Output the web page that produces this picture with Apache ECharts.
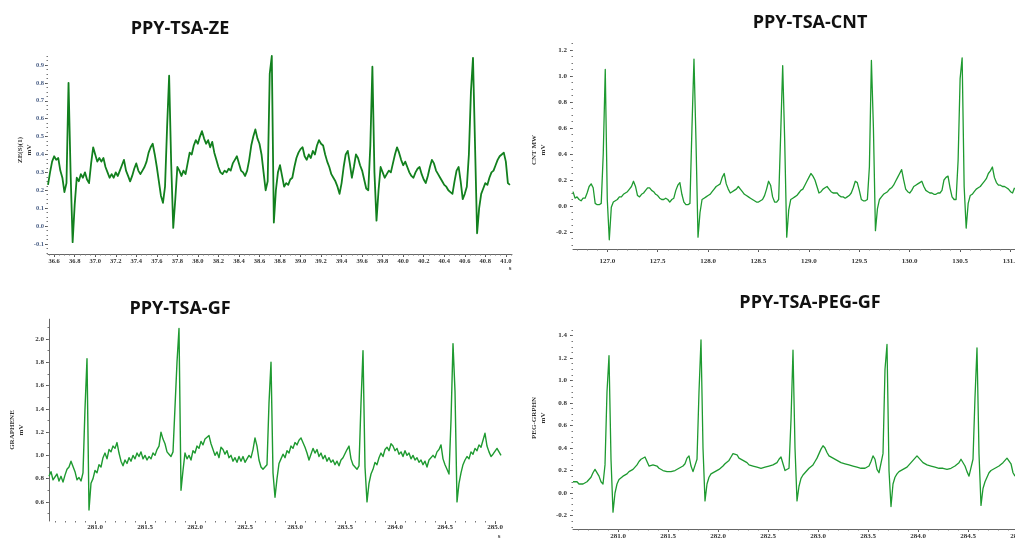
<!DOCTYPE html>
<html><head><meta charset="utf-8">
<script src="https://cdn.jsdelivr.net/npm/echarts@6/dist/echarts.min.js"></script>
<style>html,body{margin:0;padding:0;background:#fff}#c{width:1015px;height:540px}</style>
</head><body><div id="c"></div>
<script>
// ---------- data ----------
const titles = ['PPY-TSA-ZE', 'PPY-TSA-CNT', 'PPY-TSA-GF', 'PPY-TSA-PEG-GF'];
const yNames = ['ZE(S)(1)', 'CNT MW', 'GRAPHENE', 'PEG-GRPHN'];
const yUnit = 'mV';
const xUnit = 's';

const zeStart = 36.54, zeStep = 0.02;
const zeValues = [0.23,0.30,0.36,0.39,0.37,0.38,0.31,0.27,0.19,0.24,
 0.80,0.30,-0.09,0.12,0.27,0.25,0.29,0.27,0.30,0.26,
 0.24,0.35,0.44,0.40,0.36,0.38,0.36,0.38,0.33,0.30,
 0.27,0.29,0.27,0.30,0.28,0.31,0.34,0.37,0.31,0.28,
 0.25,0.28,0.32,0.35,0.31,0.29,0.31,0.33,0.36,0.41,
 0.44,0.46,0.40,0.33,0.25,0.17,0.13,0.22,0.55,0.84,
 0.35,-0.01,0.15,0.33,0.31,0.28,0.31,0.29,0.35,0.41,
 0.40,0.45,0.48,0.46,0.50,0.53,0.49,0.46,0.48,0.44,
 0.47,0.41,0.37,0.33,0.30,0.29,0.31,0.30,0.32,0.31,
 0.35,0.37,0.39,0.35,0.31,0.30,0.28,0.31,0.37,0.45,
 0.50,0.54,0.49,0.46,0.40,0.30,0.20,0.25,0.85,0.95,
 0.02,0.20,0.30,0.34,0.28,0.22,0.24,0.23,0.26,0.27,
 0.33,0.38,0.41,0.43,0.44,0.39,0.37,0.40,0.38,0.42,
 0.40,0.45,0.48,0.46,0.45,0.40,0.36,0.33,0.29,0.27,
 0.25,0.22,0.18,0.24,0.33,0.40,0.42,0.35,0.27,0.33,
 0.40,0.38,0.34,0.31,0.26,0.21,0.20,0.45,0.89,0.30,
 0.03,0.20,0.33,0.30,0.27,0.29,0.31,0.30,0.35,0.40,
 0.44,0.41,0.37,0.34,0.36,0.33,0.30,0.28,0.27,0.30,
 0.32,0.33,0.29,0.26,0.24,0.28,0.33,0.37,0.35,0.31,
 0.29,0.27,0.25,0.23,0.22,0.20,0.19,0.18,0.25,0.31,
 0.33,0.25,0.15,0.18,0.22,0.40,0.75,0.94,0.45,-0.04,
 0.10,0.18,0.21,0.24,0.23,0.27,0.30,0.31,0.34,0.37,
 0.39,0.40,0.41,0.36,0.24,0.23];

const cntStart = 126.66, cntStep = 0.02;
const cntValues = [0.11,0.06,0.07,0.05,0.04,0.06,0.06,0.10,0.15,0.17,
 0.14,0.02,0.01,0.01,0.02,0.40,1.05,0.05,-0.26,-0.01,
 0.03,0.04,0.05,0.07,0.07,0.09,0.10,0.11,0.13,0.15,
 0.19,0.15,0.08,0.07,0.09,0.10,0.12,0.14,0.14,0.12,
 0.11,0.09,0.08,0.06,0.05,0.05,0.06,0.05,0.03,0.05,
 0.06,0.12,0.16,0.18,0.09,0.03,0.01,0.01,0.02,0.60,
 1.13,0.50,-0.24,-0.05,0.05,0.06,0.07,0.08,0.09,0.11,
 0.13,0.15,0.16,0.17,0.22,0.25,0.17,0.13,0.10,0.11,
 0.12,0.13,0.15,0.13,0.11,0.09,0.08,0.07,0.06,0.05,
 0.04,0.03,0.03,0.04,0.05,0.08,0.13,0.19,0.16,0.07,
 0.03,0.03,0.05,0.55,1.08,0.50,-0.24,-0.03,0.05,0.06,
 0.07,0.08,0.10,0.12,0.13,0.16,0.19,0.22,0.25,0.23,
 0.20,0.15,0.10,0.11,0.13,0.14,0.15,0.13,0.11,0.10,
 0.10,0.10,0.08,0.07,0.07,0.06,0.07,0.08,0.10,0.14,
 0.19,0.18,0.12,0.05,0.04,0.04,0.05,0.30,1.12,0.60,
 -0.19,-0.02,0.05,0.07,0.09,0.10,0.11,0.13,0.14,0.16,
 0.19,0.22,0.25,0.28,0.20,0.13,0.11,0.10,0.12,0.15,
 0.16,0.17,0.18,0.19,0.15,0.12,0.11,0.10,0.10,0.09,
 0.09,0.10,0.10,0.12,0.20,0.22,0.23,0.14,0.07,0.05,
 0.05,0.35,0.98,1.14,0.15,-0.17,0.02,0.08,0.09,0.11,
 0.13,0.14,0.15,0.17,0.19,0.21,0.25,0.27,0.30,0.22,
 0.18,0.16,0.16,0.15,0.15,0.14,0.13,0.11,0.10,0.14];

const gfStart = 280.54, gfStep = 0.02;
const gfValues = [0.82,0.86,0.79,0.80,0.84,0.78,0.82,0.77,0.83,0.88,
 0.90,0.95,0.94,0.86,0.79,0.81,0.78,0.85,1.40,1.83,
 0.53,0.76,0.80,0.87,0.85,0.92,0.90,0.98,1.02,0.97,
 1.05,1.03,1.08,1.06,1.11,1.02,0.95,0.91,0.96,0.93,
 0.98,0.95,1.00,0.97,1.02,0.99,1.03,0.97,1.00,0.96,
 0.99,0.97,1.02,1.00,1.05,1.08,1.20,1.14,1.10,1.03,
 1.01,0.99,1.03,1.04,1.80,2.09,0.70,0.87,1.02,0.97,
 1.00,0.96,1.04,1.02,1.08,1.06,1.12,1.09,1.14,1.13,
 1.17,1.10,1.05,1.00,1.03,0.98,1.07,1.05,1.01,1.04,
 0.98,1.00,0.95,0.98,0.94,0.99,0.95,0.99,0.94,0.97,
 1.00,0.98,1.05,1.15,1.08,0.96,0.90,0.88,0.89,0.92,
 1.45,1.80,0.85,0.64,0.80,0.93,0.97,1.01,0.98,1.04,
 1.02,1.08,1.06,1.11,1.09,1.13,1.15,1.16,1.07,1.02,
 0.96,1.01,1.06,1.02,1.05,0.99,1.02,0.97,1.00,0.95,
 0.98,0.94,0.96,0.92,0.95,0.91,0.96,0.98,0.99,1.05,
 1.08,0.97,0.92,0.90,0.88,0.91,1.45,1.90,0.90,0.60,
 0.76,0.84,0.88,0.94,0.92,0.98,1.02,0.99,1.05,1.07,
 1.04,1.10,1.08,1.04,1.06,1.01,1.03,0.99,1.04,1.00,
 1.02,0.97,1.00,0.96,0.98,0.94,0.96,0.92,0.95,0.90,
 0.96,0.97,1.00,0.98,1.03,1.05,1.09,0.97,0.92,0.88,
 0.84,1.30,1.96,1.55,0.60,0.76,0.85,0.92,0.96,0.99,
 0.97,1.03,1.01,1.06,1.04,1.09,1.07,1.13,1.19,1.08,
 1.03,0.99,1.01,1.02,1.06,1.03,1.00];

const pegStart = 280.55, pegStep = 0.02;
const pegValues = [0.10,0.09,0.10,0.08,0.09,0.08,0.09,0.10,0.11,0.14,
 0.18,0.21,0.22,0.15,0.10,0.08,0.25,0.90,1.22,0.30,
 -0.17,0.00,0.08,0.12,0.13,0.15,0.16,0.17,0.19,0.20,
 0.21,0.22,0.25,0.28,0.30,0.31,0.32,0.28,0.24,0.23,
 0.25,0.26,0.24,0.22,0.21,0.20,0.20,0.19,0.19,0.19,
 0.20,0.20,0.21,0.22,0.23,0.24,0.26,0.31,0.33,0.24,
 0.19,0.18,0.30,0.90,1.36,0.40,-0.07,0.08,0.14,0.17,
 0.18,0.19,0.20,0.21,0.22,0.24,0.26,0.27,0.29,0.32,
 0.35,0.36,0.34,0.31,0.30,0.29,0.28,0.27,0.25,0.25,
 0.24,0.23,0.23,0.22,0.22,0.22,0.23,0.23,0.24,0.24,
 0.25,0.26,0.27,0.30,0.32,0.26,0.20,0.19,0.22,0.65,
 1.27,0.40,-0.07,0.06,0.13,0.16,0.18,0.20,0.22,0.23,
 0.25,0.28,0.31,0.35,0.39,0.42,0.40,0.36,0.33,0.32,
 0.31,0.30,0.29,0.28,0.27,0.27,0.26,0.26,0.25,0.25,
 0.24,0.24,0.23,0.23,0.22,0.22,0.22,0.23,0.24,0.28,
 0.33,0.30,0.21,0.18,0.18,0.35,1.10,1.32,0.20,-0.12,
 0.08,0.14,0.17,0.19,0.20,0.21,0.22,0.23,0.25,0.27,
 0.29,0.31,0.33,0.32,0.29,0.27,0.26,0.25,0.25,0.24,
 0.24,0.23,0.23,0.22,0.22,0.22,0.21,0.21,0.22,0.22,
 0.23,0.24,0.25,0.27,0.30,0.29,0.24,0.19,0.15,0.14,
 0.30,0.85,1.29,0.35,-0.11,0.04,0.10,0.14,0.18,0.20,
 0.21,0.22,0.23,0.24,0.25,0.27,0.29,0.31,0.32,0.26,
 0.18,0.15];

const zeXTicks = [36.6,36.8,37.0,37.2,37.4,37.6,37.8,38.0,38.2,38.4,38.6,38.8,39.0,39.2,39.4,39.6,39.8,40.0,40.2,40.4,40.6,40.8,41.0];
const cntXTicks = [127.0,127.5,128.0,128.5,129.0,129.5,130.0,130.5,131.0];
const gfXTicks = [281.0,281.5,282.0,282.5,283.0,283.5,284.0,284.5,285.0];
const pegXTicks = [281.0,281.5,282.0,282.5,283.0,283.5,284.0,284.5,285.0];
const zeYTicks = [-0.1,0.0,0.1,0.2,0.3,0.4,0.5,0.6,0.7,0.8,0.9];
const cntYTicks = [-0.2,0.0,0.2,0.4,0.6,0.8,1.0,1.2];
const gfYTicks = [0.6,0.8,1.0,1.2,1.4,1.6,1.8,2.0];
const pegYTicks = [-0.2,0.0,0.2,0.4,0.6,0.8,1.0,1.2,1.4];

// ---------- layout / style ----------
function steps(a, b, s) { const r = []; const n = Math.round((b - a) / s); for (let k = 0; k <= n; k++) r.push(+(a + k * s).toFixed(4)); return r; }
const serif = 'Liberation Serif';
const panels = [
  { title: titles[0], tx: 180, ty: 29, name: yNames[0], nx: 25, ny: 150, unitX: 510, unitY: 268,
    start: zeStart, step: zeStep, values: zeValues, xTicks: zeXTicks, yTicks: zeYTicks,
    grid: { left: 48, top: 56, width: 464, height: 198 }, xr: [36.54, 41.06], yr: [-0.156, 0.95],
    xMinor: steps(36.55, 41.05, 0.05), yMinor: steps(-0.15, 0.95, 0.025),
    color: '#12801e', lw: 1.8, xLine: true, yLine: false, xm: 4, ym: 4, fs: 6.5, ylColor: '#4a5f86' },
  { title: titles[1], tx: 810, ty: 23, name: yNames[1], nx: 539, ny: 150,
    start: cntStart, step: cntStep, values: cntValues, xTicks: cntXTicks, yTicks: cntYTicks,
    grid: { left: 573, top: 43.5, width: 447, height: 205.5 }, xr: [126.66, 131.094], yr: [-0.331, 1.25],
    xMinor: steps(126.7, 131.0, 0.1), yMinor: steps(-0.3, 1.25, 0.05),
    color: '#1e9a30', lw: 1.3, xLine: true, yLine: false, xm: 9, ym: 6, fs: 7, ylColor: '#333' },
  { title: titles[2], tx: 180, ty: 309, name: yNames[2], nx: 17, ny: 430, unitX: 499, unitY: 536,
    start: gfStart, step: gfStep, values: gfValues, xTicks: gfXTicks, yTicks: gfYTicks,
    grid: { left: 49, top: 319.2, width: 454, height: 201.8 }, xr: [280.54, 285.08], yr: [0.436, 2.17],
    xMinor: steps(280.6, 285.0, 0.1), yMinor: steps(0.5, 2.1, 0.1),
    color: '#1e9a30', lw: 1.4, xLine: false, yLine: true, xm: 3, ym: 5, fs: 7, ylColor: '#333' },
  { title: titles[3], tx: 810, ty: 303, name: yNames[3], nx: 539, ny: 418,
    start: pegStart, step: pegStep, values: pegValues, xTicks: pegXTicks, yTicks: pegYTicks,
    grid: { left: 573, top: 325.4, width: 447, height: 203.6 }, xr: [280.55, 285.02], yr: [-0.32, 1.49],
    xMinor: steps(280.6, 285.0, 0.1), yMinor: steps(-0.3, 1.45, 0.05),
    color: '#1e9a30', lw: 1.3, xLine: true, yLine: false, xm: 4, ym: 6, fs: 7, ylColor: '#333' }
];

const grids = [], xAxes = [], yAxes = [], series = [], graphics = [];
panels.forEach((p, k) => {
  grids.push(Object.assign({ containLabel: false, outerBoundsMode: 'none' }, p.grid));
  const fmt = v => v.toFixed(1);
  xAxes.push({ gridIndex: k, type: 'value', position: 'bottom', min: p.xr[0], max: p.xr[1],
    axisLine: { show: p.xLine, onZero: false, lineStyle: { color: '#666', width: 1 } },
    axisTick: { show: true, customValues: p.xTicks, length: 3, lineStyle: { color: '#555' } },
    axisLabel: { customValues: p.xTicks, formatter: fmt, margin: p.xm, fontSize: p.fs, fontFamily: serif, fontWeight: 'bold', color: '#333' },
    splitLine: { show: false } });
  xAxes.push({ gridIndex: k, type: 'value', position: 'bottom', min: p.xr[0], max: p.xr[1],
    axisLine: { show: false, onZero: false },
    axisTick: { show: true, customValues: p.xMinor, length: 1.5, lineStyle: { color: '#777' } },
    axisLabel: { show: false }, splitLine: { show: false } });
  yAxes.push({ gridIndex: k, type: 'value', position: 'left', min: p.yr[0], max: p.yr[1],
    axisLine: { show: p.yLine, onZero: false, lineStyle: { color: '#666', width: 1 } },
    axisTick: { show: true, customValues: p.yTicks, length: 3, lineStyle: { color: '#555' } },
    axisLabel: { customValues: p.yTicks, formatter: fmt, margin: p.ym, fontSize: p.fs, fontFamily: serif, fontWeight: 'bold', color: p.ylColor },
    splitLine: { show: false } });
  yAxes.push({ gridIndex: k, type: 'value', position: 'left', min: p.yr[0], max: p.yr[1],
    axisLine: { show: false, onZero: false },
    axisTick: { show: true, customValues: p.yMinor, length: 1.5, lineStyle: { color: '#777' } },
    axisLabel: { show: false }, splitLine: { show: false } });
  series.push({ type: 'line', xAxisIndex: 2 * k, yAxisIndex: 2 * k, showSymbol: false, symbol: 'none',
    sampling: null, animation: false, clip: true,
    lineStyle: { color: p.color, width: p.lw, join: 'round' },
    data: p.values.map((v, i) => [p.start + i * p.step, v]) });
  graphics.push({ type: 'text', x: p.tx, y: p.ty, style: { text: p.title, align: 'center', verticalAlign: 'middle',
    font: 'bold 18px "Open Sans"', fill: '#111' } });
  graphics.push({ type: 'text', x: p.nx, y: p.ny, rotation: Math.PI / 2, style: { text: p.name + '\n' + yUnit,
    align: 'center', verticalAlign: 'middle', font: 'bold 7px "Liberation Serif"', fill: '#333', lineHeight: 9 } });
  if (p.unitX) graphics.push({ type: 'text', x: p.unitX, y: p.unitY, style: { text: xUnit, align: 'center', verticalAlign: 'middle',
    font: 'bold 7px "Liberation Serif"', fill: '#333' } });
});

const chart = echarts.init(document.getElementById('c'), null, { renderer: 'canvas' });
chart.setOption({ animation: false, backgroundColor: '#fff', grid: grids, xAxis: xAxes, yAxis: yAxes, series: series, graphic: graphics });
</script></body></html>
